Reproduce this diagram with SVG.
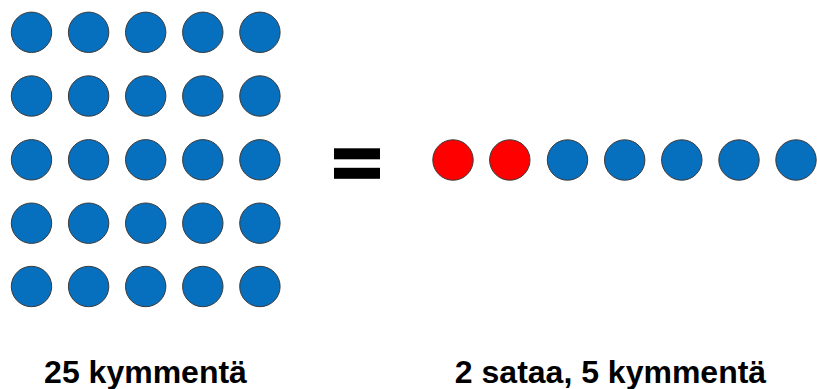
<svg xmlns="http://www.w3.org/2000/svg" width="817" height="389" viewBox="0 0 817 389">
  <defs>
    <style>
      .dot { stroke: #3a3a3a; stroke-width: 1; }
      .blue { fill: #0670BE; }
      .red { fill: #FF0000; }
      .bar { fill: #000000; }
      .label { font-family: "Liberation Sans", Arial, sans-serif; font-weight: bold; font-size: 32px; fill: #000000; text-anchor: middle; }
    </style>
    <circle id="b" class="dot blue" r="20.2"/>
    <circle id="r" class="dot red" r="20.2"/>
  </defs>
  <rect width="817" height="389" fill="#ffffff"/>

  <!-- 5 x 5 grid: twenty-five tens -->
  <g id="grid">
    <g id="row1">
      <use href="#b" x="31.5" y="32.3"/><use href="#b" x="88.6" y="32.3"/><use href="#b" x="145.7" y="32.3"/><use href="#b" x="202.8" y="32.3"/><use href="#b" x="259.9" y="32.3"/>
    </g>
    <g id="row2">
      <use href="#b" x="31.5" y="96"/><use href="#b" x="88.6" y="96"/><use href="#b" x="145.7" y="96"/><use href="#b" x="202.8" y="96"/><use href="#b" x="259.9" y="96"/>
    </g>
    <g id="row3">
      <use href="#b" x="31.5" y="159.8"/><use href="#b" x="88.6" y="159.8"/><use href="#b" x="145.7" y="159.8"/><use href="#b" x="202.8" y="159.8"/><use href="#b" x="259.9" y="159.8"/>
    </g>
    <g id="row4">
      <use href="#b" x="31.5" y="223.2"/><use href="#b" x="88.6" y="223.2"/><use href="#b" x="145.7" y="223.2"/><use href="#b" x="202.8" y="223.2"/><use href="#b" x="259.9" y="223.2"/>
    </g>
    <g id="row5">
      <use href="#b" x="31.5" y="286.5"/><use href="#b" x="88.6" y="286.5"/><use href="#b" x="145.7" y="286.5"/><use href="#b" x="202.8" y="286.5"/><use href="#b" x="259.9" y="286.5"/>
    </g>
  </g>

  <!-- equals sign -->
  <g id="equals">
    <rect class="bar" x="334" y="148.3" width="46" height="11"/>
    <rect class="bar" x="334" y="167.8" width="46" height="11"/>
  </g>

  <!-- two hundreds and five tens -->
  <g id="hundreds">
    <use href="#r" x="453" y="160"/>
    <use href="#r" x="509.8" y="160"/>
  </g>
  <g id="tens">
    <use href="#b" x="567.5" y="160"/>
    <use href="#b" x="624.7" y="160"/>
    <use href="#b" x="681.8" y="160"/>
    <use href="#b" x="739" y="160"/>
    <use href="#b" x="796" y="160"/>
  </g>

  <g id="labels">
    <text class="label" x="145.5" y="383">25 kymmentä</text>
    <text class="label" x="610.5" y="383">2 sataa, 5 kymmentä</text>
  </g>
</svg>
